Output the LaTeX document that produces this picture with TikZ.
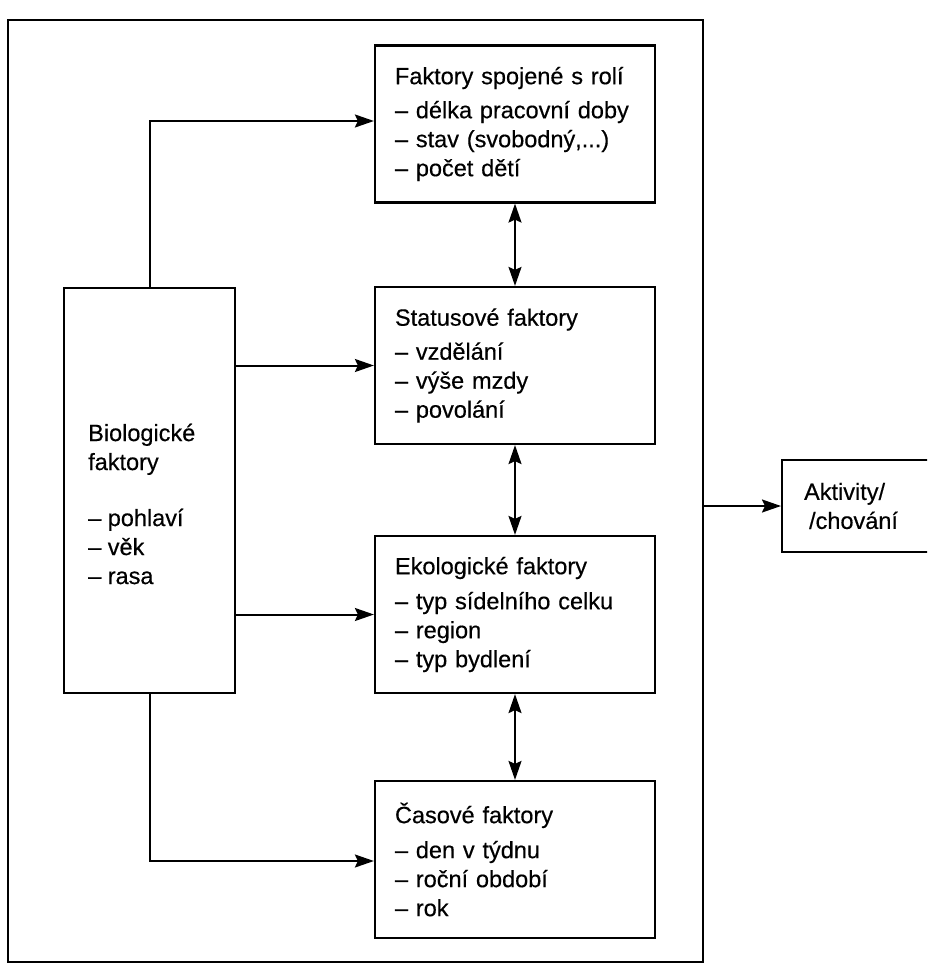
\documentclass[tikz,border=0pt]{standalone}
\usepackage{fontspec}
\setmainfont{Liberation Sans}[FakeBold=0.4]
\newfontfamily\diafont{Liberation Sans}[FakeBold=0.4]
\usetikzlibrary{arrows.meta}
\begin{document}
\begin{tikzpicture}[x=1pt,y=-1pt,
  every node/.style={font=\diafont\fontsize{23.5}{29}\selectfont},
  fbox/.style={draw, line width=2.2pt, rectangle, align=left, inner xsep=20pt, inner ysep=0pt,
     text width=240pt, minimum width=280pt, minimum height=157pt},
  arr/.style={line width=2pt, -{Stealth[length=19pt,width=13pt,inset=3pt]}},
  darr/.style={line width=1.8pt, {Stealth[length=19pt,width=13pt,inset=3pt]}-{Stealth[length=19pt,width=13pt,inset=3pt]}}]
\clip (0,0) rectangle (927,965);
\fill[white] (0,0) rectangle (927,965);
% outer frame
\node[draw, line width=2.2pt, minimum width=695pt, minimum height=942pt, inner sep=0pt] (frame) at (355.5,491) {};
% boxes
\node[fbox] (role) at (515,124) {Faktory spojené s rolí\\[5pt]
– délka pracovní doby\\ – stav (svobodný,...)\\ – počet dětí};
\node[fbox] (status) at (515,365.5) {Statusové faktory\\[5pt]
– vzdělání\\ – výše mzdy\\ – povolání};
\node[fbox] (eko) at (515,614.5) {Ekologické faktory\\[6pt]
– typ sídelního celku\\ – region\\ – typ bydlení};
\node[fbox] (time) at (515,859.5) {Časové faktory\\[6pt]
– den v týdnu\\ – roční období\\ – rok};
\node[draw, line width=2.2pt, minimum width=171pt, minimum height=405pt, inner sep=0pt] (bio) at (149.5,490.5) {};
\node[align=left, anchor=west, inner sep=0pt] (biotext) at (88,504) {Biologické\\ faktory\\[27pt]
– pohlaví\\ – věk\\ – rasa};
\node[draw, line width=2.2pt, anchor=west, minimum width=170pt, minimum height=92pt,
  inner xsep=22pt, text width=126pt, align=left] (akt) at (781,506) {Aktivity/\\\hspace*{5pt}/chování};
% connectors
\draw[arr] (bio.north) |- ([yshift=3pt]role.west);
\draw[arr] (bio.east |- status.west) -- (status.west);
\draw[arr] (bio.east |- eko.west) -- (eko.west);
\draw[arr] (bio.south) |- ([yshift=-1.5pt]time.west);
\draw[darr] (role.south) -- (status.north);
\draw[darr] (status.south) -- (eko.north);
\draw[darr] (eko.south) -- (time.north);
\draw[arr] (frame.east |- akt.west) -- (akt.west);
\end{tikzpicture}
\end{document}
